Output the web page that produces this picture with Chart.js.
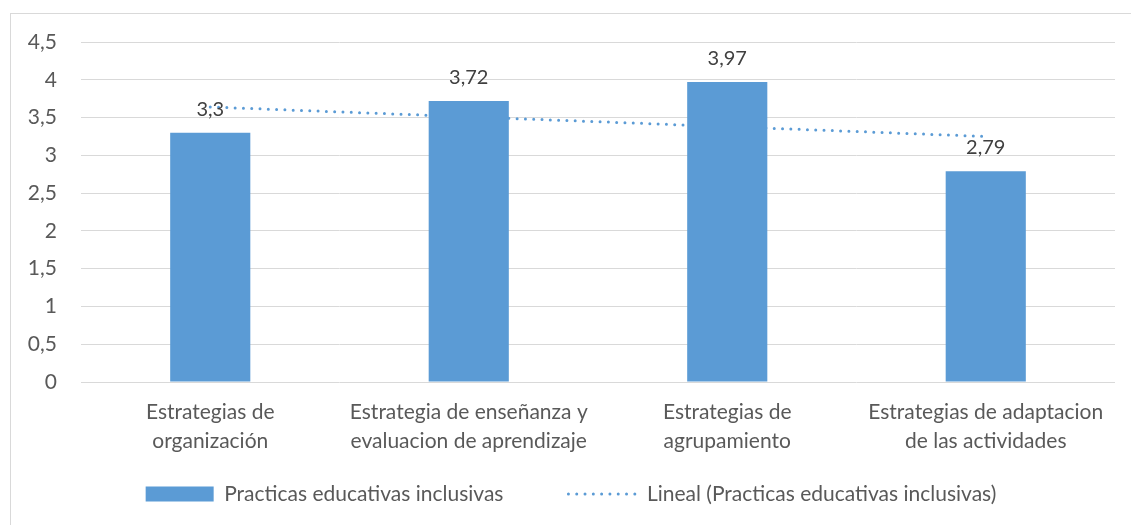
<!DOCTYPE html>
<html>
<head>
<meta charset="utf-8">
<script src="https://cdn.jsdelivr.net/npm/chart.js@4.4.1/dist/chart.umd.min.js"></script>
<style>
  html, body { margin: 0; padding: 0; background: #fff; overflow: hidden; }
  #frame {
    position: absolute; left: 10px; top: 13px;
    width: 1200px; height: 600px;
    border-left: 1px solid #d9d9d9; border-top: 1px solid #d9d9d9;
  }
  #box { position: absolute; left: 0; top: 0; width: 1120px; height: 511px; }
</style>
</head>
<body>
<div id="frame"><div id="box"><canvas id="chart"></canvas></div></div>
<script>
// data
const categories = [
  ['Estrategias de', 'organización'],
  ['Estrategia de enseñanza y', 'evaluacion de aprendizaje'],
  ['Estrategias de', 'agrupamiento'],
  ['Estrategias de adaptacion', 'de las actividades']
];
const practicas = [3.3, 3.72, 3.97, 2.79];
const lineal = [3.64, 3.51, 3.38, 3.25];   // trend line as drawn
const yTicks = [0, 0.5, 1, 1.5, 2, 2.5, 3, 3.5, 4, 4.5];

const BLUE = '#5B9BD5';
const FONT = 'Lato';
const DOTS = [0, 8.3];
const LEGEND_GAP = 65;
const comma = v => String(v).replace('.', ',');

// value labels above the bars
const barLabels = {
  id: 'barLabels',
  afterDatasetsDraw(chart) {
    const ctx = chart.ctx;
    const meta = chart.getDatasetMeta(0);
    ctx.save();
    ctx.font = '20px ' + FONT;
    ctx.fillStyle = '#404040';
    ctx.textAlign = 'center';
    ctx.textBaseline = 'alphabetic';
    meta.data.forEach((bar, i) => {
      ctx.fillText(comma(practicas[i]), bar.x, bar.y - 17);
    });
    ctx.restore();
  }
};

// put the legend row where the reference has it (centred on the whole frame)
const legendPlace = {
  id: 'legendPlace',
  afterLayout(chart) {
    const lg = chart.legend;
    lg.left = 0;
    lg.right = chart.width;
    lg.top = 480 - LEGEND_GAP - 10.5;
    lg.bottom = chart.height;
  }
};

new Chart(document.getElementById('chart'), {
  type: 'bar',
  data: {
    labels: categories,
    datasets: [
      {
        label: 'Practicas educativas inclusivas',
        data: practicas,
        backgroundColor: BLUE,
        borderWidth: 0,
        barPercentage: 0.31,
        categoryPercentage: 1,
        pointStyle: 'rect',
        order: 0
      },
      {
        type: 'line',
        label: 'Lineal (Practicas educativas inclusivas)',
        data: lineal,
        borderColor: BLUE,
        backgroundColor: BLUE,
        borderWidth: 3,
        borderDash: DOTS,
        borderCapStyle: 'round',
        pointRadius: 0,
        pointStyle: 'line',
        fill: false,
        order: 1
      }
    ]
  },
  options: {
    responsive: true,
    maintainAspectRatio: false,
    animation: false,
    layout: { padding: { top: 28, right: 16, bottom: 13, left: 0 } },
    plugins: {
      tooltip: { enabled: false },
      legend: {
        position: 'bottom',
        maxHeight: 60,
        labels: {
          usePointStyle: true,
          pointStyleWidth: 68,
          boxHeight: 15,
          padding: LEGEND_GAP,
          color: '#595959',
          font: { family: FONT, size: 21 },
          generateLabels(chart) {
            const items = Chart.defaults.plugins.legend.labels.generateLabels(chart);
            items[0].lineWidth = 0;
            items[1].lineWidth = 3;
            items[1].lineDash = DOTS;
            items[1].lineCap = 'round';
            items[1].strokeStyle = BLUE;
            return items;
          }
        }
      }
    },
    scales: {
      x: {
        grid: { display: false },
        border: { display: false },
        ticks: {
          color: '#595959',
          padding: 8,
          maxRotation: 0,
          font: { family: FONT, size: 21, lineHeight: 1.38 }
        },
        afterFit: s => { s.height = 70; }
      },
      y: {
        min: 0,
        max: 4.5,
        afterBuildTicks: s => { s.ticks = yTicks.map(v => ({ value: v })); },
        grid: { color: '#d9d9d9', lineWidth: 1, tickLength: 16, tickColor: 'rgba(0,0,0,0)' },
        border: { display: false },
        ticks: {
          color: '#595959',
          padding: 8,
          font: { family: FONT, size: 21 },
          callback: v => comma(v)
        },
        afterFit: s => { s.width = 70; }
      }
    }
  },
  plugins: [barLabels, legendPlace]
});
</script>
</body>
</html>
